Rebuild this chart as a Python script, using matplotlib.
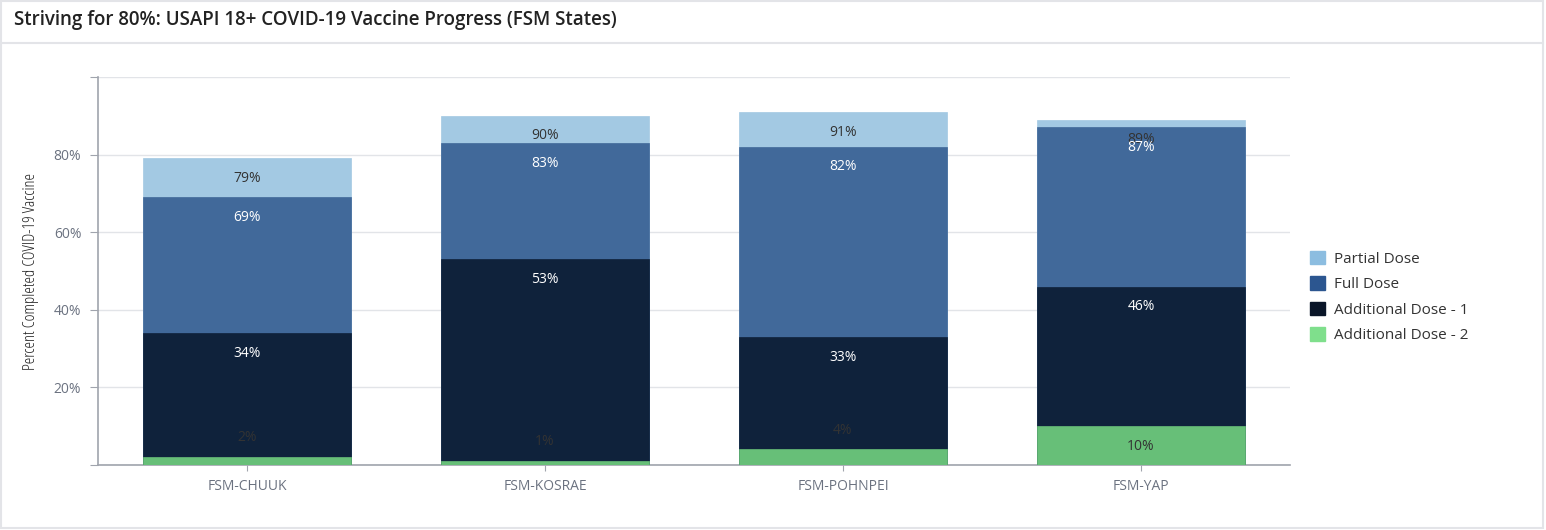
import matplotlib
matplotlib.use('Agg')
import matplotlib.pyplot as plt
from matplotlib.patches import Patch, Rectangle
from matplotlib.lines import Line2D
from matplotlib.ticker import FuncFormatter

plt.rcParams['font.family'] = ['Open Sans', 'DejaVu Sans']

states = ["FSM-CHUUK", "FSM-KOSRAE", "FSM-POHNPEI", "FSM-YAP"]
series_names = ["Partial Dose", "Full Dose", "Additional Dose - 1", "Additional Dose - 2"]
partial = [79, 90, 91, 89]
full = [69, 83, 82, 87]
add1 = [34, 53, 33, 46]
add2 = [2, 1, 4, 10]

bar_colors = ["#a3c9e3", "#41699a", "#0f223b", "#67bf78"]
legend_colors = ["#8cbde0", "#2c5690", "#0a1629", "#7fdf8c"]
label_colors = ["#333333", "white", "white", "#333333"]

fig = plt.figure(figsize=(15.46, 5.30), dpi=100)
ax = fig.add_axes([98 / 1546, 65 / 530, 1192 / 1546, 388 / 530])

x = list(range(len(states)))
for i, (vals, c, lc) in enumerate(zip([partial, full, add1, add2], bar_colors, label_colors)):
    ax.bar(x, vals, width=0.7, color=c, zorder=2 + i, edgecolor=c, linewidth=0.5)
    for xi, v in zip(x, vals):
        off = 14 if v < 7 else -14.5
        ax.annotate(f"{v}%", (xi, v), xytext=(0, off), textcoords="offset points",
                    ha="center", va="center", fontsize=10, color=lc, zorder=10)

ax.set_xlim(-0.5, 3.5)
ax.set_ylim(0, 100)
ax.set_yticks([0, 20, 40, 60, 80, 100])
ax.yaxis.set_major_formatter(FuncFormatter(lambda v, p: "" if v in (0, 100) else f"{int(v)}%"))
ax.set_xticks(x)
ax.set_xticklabels(states)
ax.grid(axis="y", color="#e2e4e8", linewidth=1, zorder=0)
ax.set_axisbelow(True)
for s in ["top", "right"]:
    ax.spines[s].set_visible(False)
for s in ["left", "bottom"]:
    ax.spines[s].set_color("#a0a4ad")
    ax.spines[s].set_linewidth(1.2)
ax.tick_params(axis="y", length=6, color="#a0a4ad", labelcolor="#6b7280", labelsize=10, pad=6)
ax.tick_params(axis="x", length=4, color="#a0a4ad", labelcolor="#6b7280", labelsize=10, pad=6)
ax.set_ylabel("Percent Completed COVID-19 Vaccine", fontsize=12, color="#222222",
              fontstretch="condensed")
ax.yaxis.set_label_coords(-0.0495, 0.5)

handles = [Patch(facecolor=c, edgecolor=c) for c in legend_colors]
fig.legend(handles, series_names, loc="center left", bbox_to_anchor=(1296 / 1546, 1 - 297 / 530),
           frameon=False, fontsize=11, labelcolor="#333333", handlelength=1.0, handleheight=1.0,
           handletextpad=0.6, labelspacing=0.62)

fig.text(14 / 1546, 1 - 20 / 530, "Striving for 80%: USAPI 18+ COVID-19 Vaccine Progress (FSM States)",
         fontsize=13.5, fontweight="semibold", color="#222222", va="center", ha="left")

# panel border and header separator
fig.add_artist(Rectangle((1 / 1546, 2 / 530), 1542 / 1546, 527 / 530, transform=fig.transFigure,
                         fill=False, edgecolor="#e3e4e8", linewidth=1.5))
fig.add_artist(Line2D([0, 1543 / 1546], [1 - 43 / 530] * 2, transform=fig.transFigure,
                      color="#e3e4e8", linewidth=1.5))

fig.savefig("out.png", dpi=100)
